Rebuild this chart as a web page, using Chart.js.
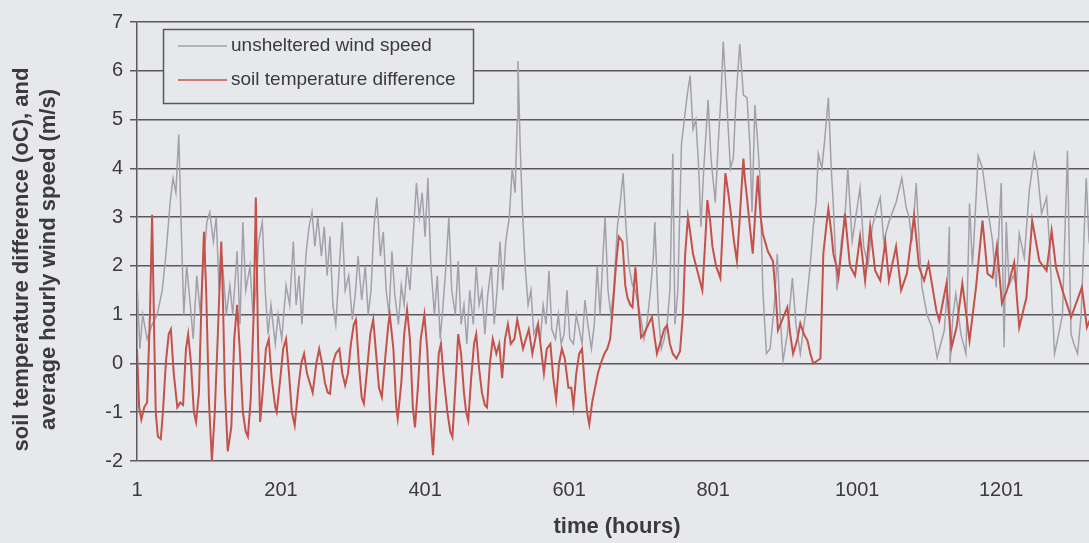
<!DOCTYPE html>
<html><head><meta charset="utf-8">
<script src="https://cdn.jsdelivr.net/npm/chart.js@4/dist/chart.umd.min.js"></script>
<style>
html,body{margin:0;padding:0;background:#e7e8eb;overflow:hidden;width:1089px;height:543px;}
#wrap{position:absolute;left:0;top:0;width:1100px;height:543px;}
</style></head><body>
<div id="wrap"><canvas id="c" width="1100" height="543"></canvas></div>
<script>
const seriesNames = ['unsheltered wind speed', 'soil temperature difference'];
const xTickLabels = [1, 201, 401, 601, 801, 1001, 1201];
const yTitleLines = ['soil temperature difference (oC), and', 'average hourly wind speed (m/s)'];
const xTitle = 'time (hours)';

const windHours = [1,5,9,15,22,29,36,41,47,51,55,59,62,66,70,75,79,84,89,93,98,102,107,111,115,119,125,130,134,140,144,148,152,158,162,166,170,175,179,183,187,193,197,202,208,213,218,222,226,230,236,240,244,248,252,257,261,265,269,273,277,282,286,290,295,300,304,308,313,318,322,326,330,334,339,343,347,351,355,359,364,368,372,376,380,384,389,393,397,401,405,409,414,418,422,426,430,434,438,443,447,451,455,459,463,468,472,476,480,484,488,493,497,501,505,509,513,518,522,526,529,530,533,536,540,544,548,552,557,561,565,569,573,577,582,586,590,594,598,602,607,611,615,619,623,627,632,636,640,644,648,651,655,659,663,668,672,676,680,684,689,693,697,701,705,709,714,718,720,725,729,733,737,741,745,748,752,757,761,765,769,773,777,781,784,788,794,798,804,808,812,815,819,825,829,833,838,843,848,852,855,859,863,866,870,875,880,886,890,894,898,904,911,916,922,929,936,940,944,947,952,956,961,965,968,973,979,984,988,994,999,1005,1010,1016,1022,1027,1033,1038,1045,1055,1063,1069,1073,1077,1083,1087,1091,1098,1105,1112,1122,1126,1129,1130,1134,1138,1145,1152,1157,1161,1163,1169,1175,1182,1189,1194,1201,1205,1208,1212,1218,1222,1226,1233,1240,1247,1251,1257,1264,1268,1275,1279,1286,1293,1296,1298,1302,1307,1312,1319,1323,1330];
const windSpeed = [1.7,0.3,1.0,0.5,0.8,1.0,1.5,2.2,3.3,3.8,3.5,4.7,3.0,1.0,2.0,1.2,0.5,1.8,1.0,2.0,2.9,3.1,2.5,3.0,1.5,2.2,1.0,1.6,1.0,2.3,0.8,2.9,1.5,2.0,1.0,1.5,2.5,2.9,1.5,0.6,1.2,0.4,1.0,0.5,1.6,1.2,2.5,1.2,1.8,0.8,2.3,2.8,3.1,2.4,3.0,2.2,2.8,1.8,2.6,1.2,0.8,2.0,2.9,1.5,1.8,0.9,1.4,2.2,1.3,2.0,1.0,1.5,2.8,3.4,2.2,2.7,1.5,1.0,2.3,1.4,0.8,1.6,1.2,2.0,1.5,2.5,3.7,3.0,3.5,2.6,3.8,2.0,1.0,1.8,0.5,1.2,2.0,3.0,1.5,1.0,2.1,0.8,1.2,0.4,1.5,0.8,2.0,1.2,1.5,0.6,1.4,2.0,0.8,1.5,2.5,1.5,2.5,3.0,4.0,3.5,5.0,6.2,4.5,3.2,2.0,1.2,1.5,0.6,0.8,0.5,1.2,0.8,1.9,0.7,0.5,1.0,0.4,0.6,1.5,0.5,0.4,1.0,0.7,0.4,1.3,0.8,0.3,0.8,2.0,1.0,2.2,3.0,1.5,1.0,1.5,2.8,3.3,3.9,2.8,2.0,1.6,1.5,1.2,0.9,0.5,0.8,1.5,2.2,2.9,1.0,0.3,0.5,0.8,1.5,4.3,0.8,1.5,4.5,5.0,5.5,5.9,4.8,5.0,4.0,2.8,4.0,5.4,4.2,3.3,4.5,5.5,6.6,5.6,4.0,4.2,5.5,6.55,5.5,5.45,4.5,3.1,5.3,4.5,3.8,1.5,0.2,0.3,1.2,2.25,1.0,0.05,0.6,1.75,0.8,0.2,1.0,2.05,2.8,3.3,4.3,4.0,4.6,5.45,4.0,3.2,1.5,2.5,3.0,4.0,2.5,3.0,3.6,2.4,2.0,2.8,3.1,3.4,2.5,2.9,3.3,3.8,3.2,3.0,2.5,3.7,2.5,1.56,1.0,0.74,0.12,0.68,1.5,2.8,0.0,1.0,1.43,0.6,0.2,3.28,2.0,2.5,4.26,4.0,3.2,2.5,1.56,3.7,0.33,2.9,1.6,1.8,1.6,2.66,2.17,3.55,4.3,4.0,3.07,3.4,2.45,0.2,0.47,1.0,4.36,2.0,0.6,0.4,0.2,1.0,3.8,2.5,2.0];

const soilHours = [1,4,7,11,15,19,22,25,27,30,34,37,41,45,48,52,57,61,65,69,72,76,80,83,87,91,94,97,101,105,109,113,118,120,123,127,132,136,140,144,148,152,155,159,163,166,169,172,176,180,184,188,193,195,200,204,208,212,216,220,225,229,233,237,241,245,250,254,258,262,266,269,273,277,282,286,290,294,298,302,305,309,313,316,320,325,329,333,337,341,345,350,352,357,361,363,368,372,376,380,384,387,391,395,400,404,408,412,416,420,423,427,432,436,439,443,447,451,455,458,461,465,469,472,476,480,484,487,491,495,500,504,508,512,516,520,525,529,533,537,541,545,550,554,558,562,566,570,575,579,583,587,591,595,600,604,607,611,615,619,623,626,629,633,637,641,645,650,654,658,662,666,670,675,679,682,686,689,693,697,701,705,711,716,720,723,727,733,737,741,745,750,755,759,762,766,769,773,779,786,790,793,797,800,805,811,815,818,822,825,830,834,838,843,845,848,852,856,860,863,867,870,877,884,888,891,897,904,908,912,918,922,927,932,936,940,945,950,954,958,961,965,968,972,975,979,984,991,998,1005,1012,1019,1026,1033,1040,1045,1055,1062,1070,1080,1087,1094,1100,1111,1115,1125,1132,1139,1147,1157,1166,1175,1182,1189,1195,1202,1209,1219,1226,1236,1244,1254,1264,1271,1277,1286,1298,1305,1313,1320,1327];
const soilDiff = [0.3,-0.9,-1.15,-0.9,-0.8,1.0,3.05,0.5,-1.0,-1.5,-1.55,-1.0,0.0,0.6,0.7,-0.2,-0.9,-0.8,-0.85,0.3,0.6,0.0,-1.0,-1.2,-0.6,1.5,2.7,1.5,-0.8,-2.0,-1.0,0.5,2.5,1.5,-0.5,-1.8,-1.3,0.5,1.2,0.2,-1.0,-1.4,-1.5,-0.7,1.0,3.4,0.5,-1.2,-0.5,0.3,0.5,-0.3,-0.9,-1.0,-0.3,0.3,0.5,-0.2,-1.0,-1.27,-0.5,0.0,0.2,-0.2,-0.4,-0.6,0.0,0.3,0.0,-0.4,-0.6,-0.62,0.0,0.2,0.3,-0.2,-0.45,-0.2,0.4,0.8,0.9,0.0,-0.7,-0.82,-0.2,0.6,0.9,0.2,-0.5,-0.69,0.0,0.8,1.0,0.3,-0.9,-1.13,-0.4,0.6,1.1,0.5,-0.9,-1.31,-0.5,0.5,1.0,0.3,-1.0,-1.88,-0.8,0.2,0.4,-0.3,-1.0,-1.4,-1.51,-0.5,0.6,0.2,-0.6,-1.0,-1.17,-0.3,0.4,0.6,-0.1,-0.6,-0.85,-0.9,0.0,0.5,0.2,0.4,-0.3,0.5,0.8,0.4,0.5,0.9,0.6,0.3,0.5,0.7,0.2,0.5,0.8,0.3,-0.2,0.3,0.4,-0.3,-0.74,0.0,0.3,0.1,-0.5,-0.5,-0.88,-0.2,0.2,0.3,-0.5,-1.0,-1.25,-0.8,-0.5,-0.2,0.0,0.2,0.3,0.5,1.2,2.0,2.6,2.5,1.6,1.35,1.2,1.15,1.97,1.2,0.53,0.6,0.8,0.95,0.5,0.2,0.4,0.7,0.78,0.4,0.2,0.1,0.25,1.0,2.2,3.0,2.7,2.25,1.9,1.5,2.5,3.35,2.9,2.4,2.0,1.75,3.0,3.9,3.5,3.15,2.5,2.1,3.0,4.2,3.8,3.4,2.8,2.25,3.2,3.85,3.0,2.66,2.3,2.1,1.4,0.68,0.9,1.15,0.6,0.2,0.5,0.82,0.6,0.47,0.2,0.0,0.05,0.1,2.25,2.8,3.17,2.7,2.25,2.0,1.76,2.3,3.07,2.0,1.8,2.6,1.7,2.8,1.9,1.7,2.5,1.7,2.4,1.5,1.84,3.03,1.97,1.7,2.05,1.08,0.88,1.64,0.33,0.74,1.64,0.47,1.56,2.93,1.84,1.76,2.4,1.23,1.5,2.07,0.74,1.35,2.93,2.1,1.9,2.72,1.97,1.5,0.95,1.23,1.56,0.74,1.0];

const BG = '#e7e8eb';
const GRID = '#5a585e';
const TEXT = '#3a3a3f';
const FONT = "'Liberation Sans', Arial, sans-serif";
const GREY = '#a2a1aa';
const RED = '#c2524a';

const bgPlugin = {
  id: 'bg',
  beforeDraw(chart) {
    const c = chart.ctx;
    c.save(); c.fillStyle = BG; c.fillRect(0, 0, chart.width, chart.height); c.restore();
  }
};

const legendPlugin = {
  id: 'insideLegend',
  afterDatasetsDraw(chart) {
    const c = chart.ctx, a = chart.chartArea;
    const bx = a.left + 26, by = a.top + 7, bw = 310, bh = 74;
    c.save();
    c.fillStyle = BG; c.fillRect(bx, by, bw, bh);
    c.strokeStyle = GRID; c.lineWidth = 1.5; c.strokeRect(bx + 0.5, by + 0.5, bw, bh);
    c.font = '19px ' + FONT; c.textBaseline = 'middle'; c.textAlign = 'left';
    const rowY = [by + 17, by + 51];
    chart.data.datasets.forEach((ds, i) => {
      const y = rowY[i];
      c.strokeStyle = ds.borderColor; c.lineWidth = 1.6;
      c.beginPath(); c.moveTo(bx + 15, y); c.lineTo(bx + 64, y); c.stroke();
      c.fillStyle = TEXT; c.fillText(ds.label, bx + 68, y);
    });
    c.restore();
  }
};

const yTitlePlugin = {
  id: 'yTitle',
  afterDraw(chart) {
    const c = chart.ctx, a = chart.chartArea;
    const cy = (a.top + a.bottom) / 2 + 18;
    c.save();
    c.font = 'bold 22px ' + FONT; c.fillStyle = TEXT;
    c.textAlign = 'center'; c.textBaseline = 'middle';
    const xs = [22, 49];
    yTitleLines.forEach((t, i) => {
      c.save(); c.translate(xs[i], cy); c.rotate(-Math.PI / 2); c.fillText(t, 0, 0); c.restore();
    });
    c.restore();
  }
};

new Chart(document.getElementById('c'), {
  type: 'line',
  data: {
    datasets: [
      { label: seriesNames[0], data: windHours.map((h, i) => ({ x: h, y: windSpeed[i] })),
        borderColor: GREY, borderWidth: 1.5, pointRadius: 0, tension: 0, order: 2 },
      { label: seriesNames[1], data: soilHours.map((h, i) => ({ x: h, y: soilDiff[i] })),
        borderColor: RED, borderWidth: 2, pointRadius: 0, tension: 0, order: 1 }
    ]
  },
  options: {
    responsive: false,
    animation: false,
    devicePixelRatio: 1,
    layout: { padding: { left: 0, right: 3, top: 22, bottom: 0 } },
    plugins: { legend: { display: false }, tooltip: { enabled: false } },
    scales: {
      x: {
        type: 'linear', min: 1, max: 1334,
        afterBuildTicks: s => { s.ticks = xTickLabels.map(v => ({ value: v })); },
        afterFit: s => { s.height = 82; },
        grid: { display: false, drawTicks: false },
        border: { display: false },
        ticks: { font: { family: FONT, size: 20 }, color: TEXT, padding: 17, maxRotation: 0, autoSkip: false,
                 callback: v => String(v) },
        title: { display: true, text: xTitle, color: TEXT, font: { family: FONT, size: 22, weight: 'bold' },
                 padding: { top: 0, bottom: 3 } }
      },
      y: {
        min: -2, max: 7,
        afterFit: s => { s.width = 137; },
        ticks: { stepSize: 1, font: { family: FONT, size: 20 }, color: TEXT, padding: 7 },
        grid: { color: GRID, lineWidth: 1.5, tickLength: 7, drawTicks: true },
        border: { display: true, color: GRID, width: 1.5 }
      }
    }
  },
  plugins: [bgPlugin, legendPlugin, yTitlePlugin]
});
</script>
</body></html>
